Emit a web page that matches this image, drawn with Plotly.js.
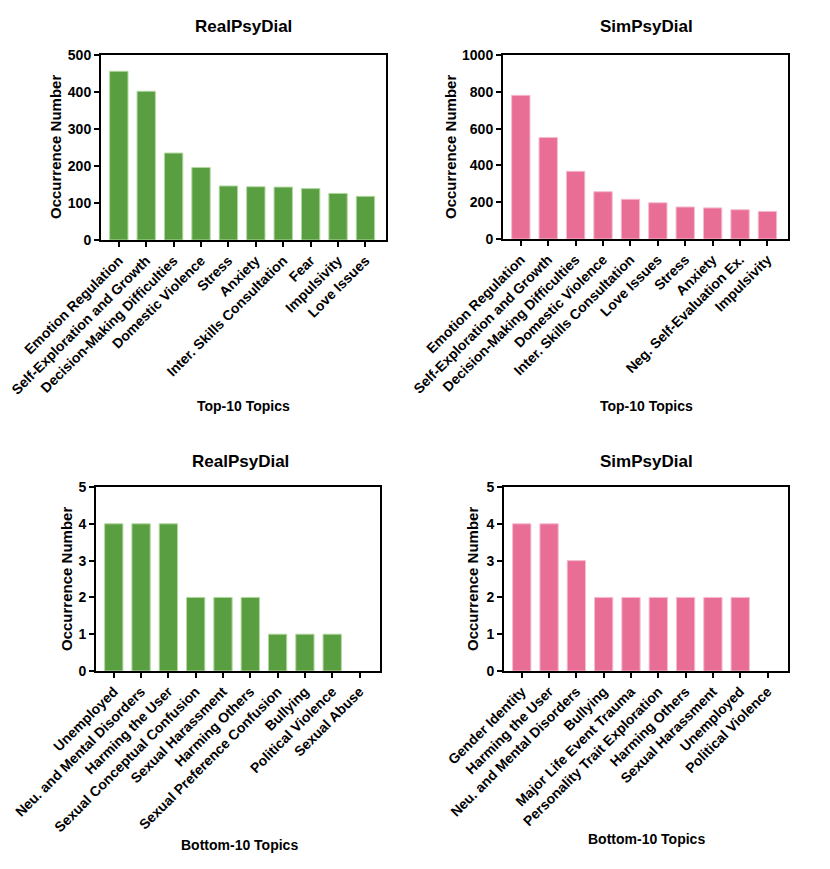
<!DOCTYPE html>
<html>
<head>
<meta charset="utf-8">
<script src="https://cdn.plot.ly/plotly-3.0.1.min.js"></script>
<style>html,body{margin:0;padding:0;background:#fff;}#chart{width:830px;height:869px;}</style>
</head>
<body>
<div id="chart"></div>
<script>
// ---- data ----
const realTopCats = ["Emotion Regulation","Self-Exploration and Growth","Decision-Making Difficulties","Domestic Violence","Stress","Anxiety","Inter. Skills Consultation","Fear","Impulsivity","Love Issues"];
const realTopVals = [456,402,235,196,146,144,143,139,126,118];
const simTopCats = ["Emotion Regulation","Self-Exploration and Growth","Decision-Making Difficulties","Domestic Violence","Inter. Skills Consultation","Love Issues","Stress","Anxiety","Neg. Self-Evaluation Ex.","Impulsivity"];
const simTopVals = [781,552,368,257,216,197,174,169,159,150];
const realBotCats = ["Unemployed","Neu. and Mental Disorders","Harming the User","Sexual Conceptual Confusion","Sexual Harassment","Harming Others","Sexual Preference Confusion","Bullying","Political Violence","Sexual Abuse"];
const realBotVals = [4,4,4,2,2,2,1,1,1,0];
const simBotCats = ["Gender Identity","Harming the User","Neu. and Mental Disorders","Bullying","Major Life Event Trauma","Personality Trait Exploration","Harming Others","Sexual Harassment","Unemployed","Political Violence"];
const simBotVals = [4,4,3,2,2,2,2,2,2,0];

const GREEN = "#5a9e42", GREEN_EDGE = "#b2d8a0";
const PINK = "#e86e96", PINK_EDGE = "#f6bccf";
const FONT = "Liberation Sans, Arial, sans-serif";

function bar(x, y, xa, ya, color, edge) {
  return {type:"bar", x:x, y:y, xaxis:xa, yaxis:ya, width:0.67,
    marker:{color:color, line:{color:edge, width:y.map(v => v > 0 ? 1 : 0)}}, hoverinfo:"skip"};
}
const data = [
  bar(realTopCats, realTopVals, "x", "y", GREEN, GREEN_EDGE),
  bar(simTopCats, simTopVals, "x2", "y2", PINK, PINK_EDGE),
  bar(realBotCats, realBotVals, "x3", "y3", GREEN, GREEN_EDGE),
  bar(simBotCats, simBotVals, "x4", "y4", PINK, PINK_EDGE)
];

const W = 830, H = 869;
function xd(a,b){return [a/W, b/W];}
function yd(top,bot){return [1-bot/H, 1-top/H];}
const tickF = {family:FONT, size:14, color:"#000", weight:"bold"};
function xaxis(dom, anchor){
  return {domain:dom, anchor:anchor, type:"category", range:[-0.65,9.75],
    showline:true, linecolor:"#000", linewidth:2, mirror:true,
    ticks:"outside", ticklen:5, tickwidth:2, tickcolor:"#000",
    tickangle:-45, tickfont:tickF,
    showgrid:false, zeroline:false, fixedrange:true};
}
function yaxis(dom, anchor, range, dtick){
  return {domain:dom, anchor:anchor, range:range, dtick:dtick,
    showline:true, linecolor:"#000", linewidth:2, mirror:true,
    ticks:"outside", ticklen:5, tickwidth:2, tickcolor:"#000",
    tickfont:tickF,
    showgrid:false, zeroline:false, fixedrange:true};
}
const tf = {family:FONT, size:17, color:"#000", weight:"bold"};
const af = {family:FONT, size:14, color:"#000", weight:"bold"};
const yf = {family:FONT, size:15, color:"#000", weight:"bold"};
function ann(text, x, y, font, angle){
  return {text:text, x:x/W, y:1-y/H, xref:"paper", yref:"paper", showarrow:false,
    xanchor:"center", yanchor:"middle", font:font, textangle:angle||0};
}

const layout = {
  width:W, height:H, margin:{l:0,r:0,t:0,b:0},
  paper_bgcolor:"#fff", plot_bgcolor:"#fff", showlegend:false,
  font:{family:FONT, color:"#000"},
  xaxis: xaxis(xd(101,386), "y"),
  yaxis: yaxis(yd(55,240), "x", [0,500], 100),
  xaxis2: xaxis(xd(503,788), "y2"),
  yaxis2: yaxis(yd(55,239), "x2", [0,1000], 200),
  xaxis3: xaxis(xd(96,380), "y3"),
  yaxis3: yaxis(yd(487,671), "x3", [0,5], 1),
  xaxis4: xaxis(xd(504,788), "y4"),
  yaxis4: yaxis(yd(487,671), "x4", [0,5], 1),
  annotations:[
    ann("RealPsyDial", 243, 27, tf),
    ann("SimPsyDial", 646, 27, tf),
    ann("RealPsyDial", 240, 462, tf),
    ann("SimPsyDial", 646, 462, tf),
    ann("Top-10 Topics", 243, 406, af),
    ann("Top-10 Topics", 646, 406, af),
    ann("Bottom-10 Topics", 239, 845, af),
    ann("Bottom-10 Topics", 646, 839, af),
    ann("Occurrence Number", 55, 147, yf, -90),
    ann("Occurrence Number", 450, 147, yf, -90),
    ann("Occurrence Number", 66, 579, yf, -90),
    ann("Occurrence Number", 472, 579, yf, -90)
  ]
};
Plotly.newPlot("chart", data, layout, {displayModeBar:false, staticPlot:true});
</script>
</body>
</html>
